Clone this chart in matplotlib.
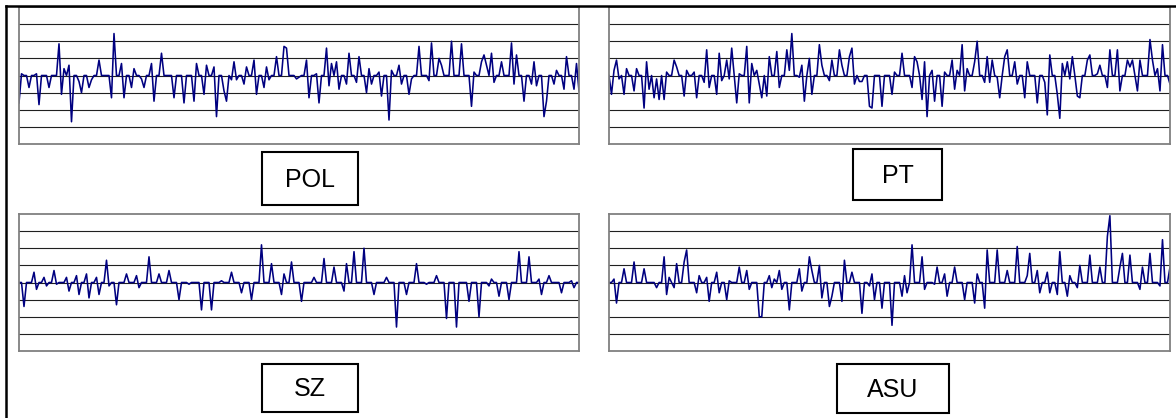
import numpy as np
import matplotlib
matplotlib.use("Agg")
from matplotlib import pyplot as plt
from matplotlib.lines import Line2D
from matplotlib.patches import Rectangle

W, H = 1176, 418
N_POINTS = 225

# spike values by sample index, everything else sits at zero
pol_spikes = {
    0: -1.6, 1: 0.1, 4: -0.7, 7: 0.1, 8: -1.7, 12: -0.7, 16: 1.85, 17: -1.1, 18: 0.4,
    20: 0.6, 21: -2.7, 24: -0.35, 25: -1.0, 28: -0.7, 29: -0.25, 32: 0.9, 37: -1.3,
    38: 2.45, 41: 0.7, 42: -1.3, 45: -0.7, 46: 0.4, 49: -0.2, 50: -0.7, 53: 0.7,
    54: -1.5, 57: 1.3, 62: -1.3, 66: -1.6, 70: -1.5, 71: 0.7, 74: -1.1, 75: 0.6,
    78: 0.5, 79: -2.4, 82: -0.9, 83: -1.5, 85: -0.25, 86: 0.8, 87: -0.25, 90: -0.5,
    91: 0.5, 94: 0.9, 95: -1.1, 98: -0.7, 99: 0.5, 100: -0.25, 103: 1.1, 106: 1.7,
    107: 1.6, 111: -0.2, 112: -0.1, 115: 0.9, 116: -1.3, 119: 0.1, 120: -1.6,
    123: 1.6, 124: -0.6, 125: 0.7, 127: 0.8, 128: -0.8, 131: -0.5, 132: 1.3,
    135: -0.4, 136: 1.1, 139: -1.0, 140: 0.4, 141: -0.5, 144: 0.2, 145: -1.2,
    148: -2.6, 149: 0.3, 152: 0.6, 153: -0.5, 156: -1.1, 157: -0.2, 160: 1.7,
    164: -0.3, 165: 1.9, 168: 1.0, 169: 0.6, 173: 2.0, 177: 1.85, 181: -1.8,
    182: 0.2, 185: 0.8, 186: 1.2, 187: 0.6, 189: 1.3, 190: -0.4, 193: 0.8,
    197: 1.9, 198: -0.5, 199: 1.2, 202: -1.5, 205: -0.5, 206: 0.8, 207: -0.6,
    210: -2.4, 211: -1.5, 214: -0.5, 215: 0.3, 218: -0.8, 219: 1.1, 222: -0.8,
    223: 0.7, 224: -0.9,
}

pt_spikes = {
    1: -1.1, 2: 0.3, 3: 0.9, 4: -0.2, 6: -1.1, 7: 0.4, 10: -0.9, 11: 0.4, 14: -1.9,
    15: 0.8, 16: -0.8, 18: -1.3, 19: -0.2, 20: -1.4, 22: -1.4, 23: 0.2, 26: 0.9,
    27: 0.5, 30: -1.2, 31: 0.3, 34: 0.2, 35: -1.3, 38: -0.4, 39: 1.5, 40: -0.7,
    43: -1.1, 44: 1.3, 45: -0.3, 47: 0.9, 48: -0.2, 49: 1.6, 51: -1.6, 52: 0.1,
    55: 1.7, 56: -1.6, 57: 0.7, 59: 0.3, 60: -0.5, 61: -1.3, 63: -1.2, 64: 1.1,
    67: 1.4, 68: -0.7, 71: 1.5, 72: 0.3, 73: 2.45, 76: -0.1, 77: 0.6, 78: -1.5,
    80: 1.0, 81: -1.1, 84: 1.8, 85: 0.6, 88: -0.3, 89: 0.9, 92: 1.5, 93: 0.6,
    96: 1.1, 97: 1.6, 98: -0.5, 100: -0.35, 101: -0.35, 104: -1.8, 105: -1.9,
    109: -1.8, 113: -1.1, 114: 0.2, 117: 1.3, 121: -0.7, 122: 1.1, 123: 0.8,
    125: -1.4, 126: 0.8, 127: -2.4, 129: 0.3, 130: -1.5, 133: -1.8, 134: 0.2,
    137: 0.9, 138: -0.8, 139: 0.3, 141: 1.8, 142: -0.9, 143: 0.4, 146: 0.8,
    147: 2.0, 150: -0.4, 151: 1.1, 152: -0.4, 153: 0.9, 155: -0.1, 156: -1.3,
    158: 1.1, 159: 1.5, 162: 0.8, 163: -0.5, 166: -1.3, 167: 0.8, 171: -1.6,
    174: -0.4, 175: -2.3, 176: 1.2, 179: -1.1, 180: -2.5, 181: 0.7, 183: 0.8,
    184: -0.2, 185: 1.1, 187: -1.2, 188: -1.3, 191: 0.9, 192: 1.2, 195: 0.1,
    196: 0.6, 199: -0.7, 200: 1.5, 203: 1.5, 204: -0.9, 207: 0.9, 208: 0.5,
    209: 0.9, 211: -0.9, 212: 0.9, 216: 2.1, 217: 0.9, 219: 0.4, 220: -0.9,
    221: 1.8, 224: -0.5,
}

sz_spikes = {
    2: -1.4, 6: 0.6, 7: -0.4, 10: 0.3, 11: -0.2, 14: 0.7, 15: -0.1, 19: 0.3,
    20: -0.5, 23: 0.4, 24: -0.7, 27: 0.5, 28: -0.9, 31: 0.3, 32: -0.7, 35: 1.3,
    36: -0.2, 39: -1.3, 43: 0.5, 47: 0.4, 48: -0.3, 52: 1.5, 56: 0.5, 60: 0.7,
    64: -1.0, 68: -0.1, 73: -1.6, 77: -1.6, 81: 0.1, 85: 0.6, 89: -0.6, 93: -1.0,
    97: 2.2, 101: 1.1, 105: -0.7, 106: 0.5, 109: 1.2, 113: -1.1, 118: 0.3,
    122: 1.4, 126: 0.9, 130: -0.5, 131: 1.1, 134: 1.8, 138: 2.0, 142: -0.7,
    147: 0.3, 151: -2.6, 155: -0.7, 159: 1.1, 163: -0.1, 167: 0.4, 171: -2.1,
    175: -2.6, 180: -1.1, 184: -2.0, 188: -0.2, 189: 0.2, 192: -0.8, 196: -1.0,
    200: 1.8, 204: 1.5, 208: 0.2, 209: -0.7, 212: 0.4, 217: -0.6, 221: 0.1,
    222: -0.3,
}

asu_spikes = {
    2: 0.2, 3: -1.2, 6: 0.8, 10: 1.2, 14: 0.8, 19: -0.3, 22: 1.5, 23: -0.7, 24: 0.3,
    26: -0.3, 27: 1.1, 30: 1.2, 31: 1.9, 35: -0.6, 36: 0.4, 39: 0.3, 40: -1.1,
    43: 0.6, 44: -0.6, 47: -1.0, 48: 0.1, 52: 0.9, 55: 0.7, 56: -0.4, 60: -2.0,
    61: -2.0, 64: 0.4, 65: -0.3, 66: 0.2, 68: 0.7, 69: -0.4, 72: -1.6, 76: 0.8,
    77: -0.5, 80: 1.5, 81: 0.7, 84: 1.0, 85: -0.9, 88: -1.4, 89: -0.8, 93: -1.1,
    94: 1.3, 97: 0.6, 101: -1.8, 104: -0.2, 105: 0.5, 106: -1.0, 109: -1.5,
    113: -2.5, 117: -0.8, 118: 0.4, 119: -0.6, 121: 2.2, 125: 1.5, 126: -0.4,
    130: -0.1, 131: 0.9, 134: 0.5, 135: -0.8, 138: 0.9, 142: -1.0, 146: -1.2,
    147: 0.5, 150: -1.5, 151: 1.9, 155: 1.9, 159: 0.7, 163: 2.1, 167: 0.4,
    168: 1.7, 171: 0.7, 172: -0.6, 175: 0.6, 176: -0.6, 179: -0.7, 180: 1.8,
    183: -0.8, 184: 0.4, 187: -0.3, 188: 1.0, 192: 1.6, 196: 0.9, 199: 2.7,
    200: 3.9, 204: 0.9, 205: 1.7, 208: 1.6, 212: -0.4, 213: 0.9, 216: 1.7,
    220: -0.2, 221: 2.5, 224: 0.9,
}

panel_names = ["POL", "PT", "SZ", "ASU"]
panel_spikes = [pol_spikes, pt_spikes, sz_spikes, asu_spikes]

# pixel boxes (left, top, right, bottom)
axes_boxes = [(19, 7, 579, 144), (609, 7, 1170, 144),
              (19, 214, 579, 351), (609, 214, 1170, 351)]
label_boxes = [(262, 152, 358, 205), (853, 149, 942, 200),
               (262, 364, 358, 412), (837, 364, 949, 413)]


def build_series(spikes, n=N_POINTS):
    series = np.zeros(n)
    for i, v in spikes.items():
        series[i] = v
    return series


def to_fig(left, top, right, bottom):
    return [left / W, 1 - bottom / H, (right - left) / W, (bottom - top) / H]


def draw_panel(fig, box, spikes):
    ax = fig.add_axes(to_fig(*box))
    series = build_series(spikes)
    ax.set_yticks(range(-3, 4))
    ax.set_xticks([])
    ax.yaxis.grid(True, color="#202020", lw=0.8)
    ax.set_axisbelow(True)
    ax.tick_params(length=0, labelleft=False, labelbottom=False)
    for spine in ax.spines.values():
        spine.set_color("#808080")
        spine.set_linewidth(1.3)
    ax.plot(np.arange(len(series)), series, color="#000080", lw=1.15)
    ax.set_xlim(0, len(series) - 1)
    ax.set_ylim(-4, 4)
    return ax


def draw_label(fig, box, name):
    l, t, r, b = box
    x0, y0, w, h = to_fig(l, t, r, b)
    fig.add_artist(Rectangle((x0, y0), w, h, transform=fig.transFigure,
                             fill=False, edgecolor="black", lw=1.5))
    fig.text(x0 + w / 2, y0 + h / 2 - 1.5 / H, name, ha="center", va="center",
             fontsize=18, family="Liberation Sans")


fig = plt.figure(figsize=(W / 100, H / 100), dpi=100)

for box, spikes in zip(axes_boxes, panel_spikes):
    draw_panel(fig, box, spikes)

for box, name in zip(label_boxes, panel_names):
    draw_label(fig, box, name)

# outer frame: top and left edges only
fig.add_artist(Line2D([6 / W, 1], [1 - 6 / H, 1 - 6 / H], color="black", lw=1.8))
fig.add_artist(Line2D([6 / W, 6 / W], [0, 1 - 6 / H], color="black", lw=1.8))

fig.savefig("out.png", dpi=100)
